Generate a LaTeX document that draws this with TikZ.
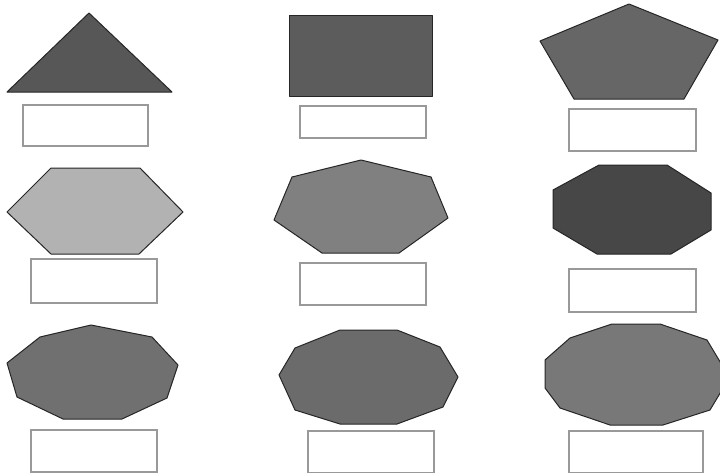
\documentclass[tikz,border=0pt]{standalone}
\begin{document}
\begin{tikzpicture}[x=1pt,y=-1pt,
  shp/.style={draw=black!85,line width=1pt,line join=round},
  lbl/.style={draw=black!40,line width=1.3pt,fill=white,inner sep=0pt,minimum width=#1},
  lbl/.default=126pt]
\useasboundingbox (0,0) rectangle (720,472);
\fill[white] (0,0) rectangle (720,472);
% row 1
\draw[shp,fill=black!66] (89,13) -- (172,92) -- (7,92) -- cycle;
\draw[shp,fill=black!64] (289,15) rectangle (432,96);
\draw[shp,fill=black!60] (629,4) -- (718,40) -- (684,99) -- (574,99) -- (540,41) -- cycle;
\node[lbl=125pt,minimum height=41pt] (l1) at (85.5,125.5) {};
\node[lbl=126pt,minimum height=32pt] (l2) at (363,122) {};
\node[lbl=127pt,minimum height=42pt] (l3) at (632.5,130) {};
% row 2
\draw[shp,fill=black!30] (51,168) -- (140,168) -- (183,212) -- (139,254) -- (51,254) -- (7,212) -- cycle;
\draw[shp,fill=black!50] (361,160) -- (431,177) -- (448,218) -- (399,253) -- (322,253) -- (274,220) -- (292,177) -- cycle;
\draw[shp,fill=black!72] (599,165) -- (667,165) -- (711,193) -- (711,230) -- (671,254) -- (597,254) -- (553,228) -- (553,190) -- cycle;
\node[lbl=126pt,minimum height=44pt] (l4) at (94,281) {};
\node[lbl=126pt,minimum height=42pt] (l5) at (363,284) {};
\node[lbl=127pt,minimum height=43pt] (l6) at (632.5,290.5) {};
% row 3
\draw[shp,fill=black!56] (91,325) -- (152,337) -- (178,365) -- (167,398) -- (122,419) -- (63,419) -- (17,397) -- (7,363) -- (40,337) -- cycle;
\draw[shp,fill=black!58] (340,330) -- (397,330) -- (440,347) -- (458,377) -- (443,407) -- (397,424) -- (340,424) -- (295,410) -- (279,375) -- (295,348) -- cycle;
\draw[shp,fill=black!53] (612,324) -- (660,324) -- (707,340) -- (722,365) -- (722,390) -- (710,410) -- (663,425) -- (610,425) -- (560,408) -- (545,388) -- (545,360) -- (570,338) -- cycle;
\node[lbl=126pt,minimum height=42pt] (l7) at (94,451) {};
\node[lbl=126pt,minimum height=42pt] (l8) at (371,452) {};
\node[lbl=134pt,minimum height=42pt] (l9) at (636,452) {};
\end{tikzpicture}
\end{document}
